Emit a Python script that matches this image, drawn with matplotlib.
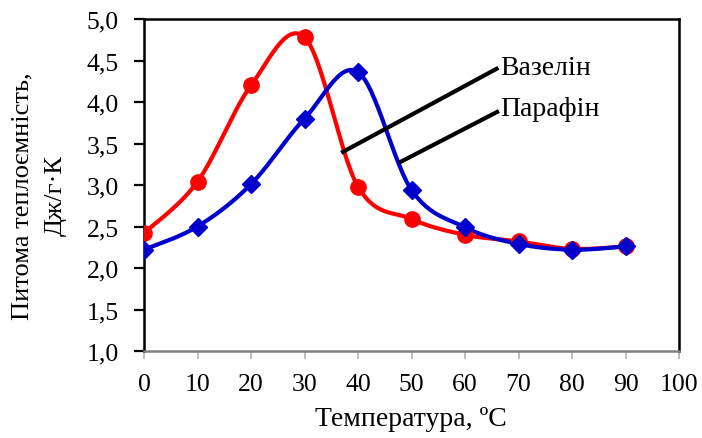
import numpy as np
import matplotlib
matplotlib.use("Agg")
import matplotlib.pyplot as plt

# data
temps = [0, 10, 20, 30, 40, 50, 60, 70, 80, 90]
vaselin = [2.42, 3.04, 4.20, 4.78, 2.98, 2.59, 2.40, 2.32, 2.23, 2.26]
parafin = [2.22, 2.50, 3.01, 3.80, 4.36, 2.94, 2.49, 2.29, 2.22, 2.26]

xticks = [0, 10, 20, 30, 40, 50, 60, 70, 80, 90, 100]
yticks = [1.0, 1.5, 2.0, 2.5, 3.0, 3.5, 4.0, 4.5, 5.0]

# label leader lines (data coords)
vas_line = ([37.2, 65.9], [3.40, 4.40])
par_line = ([48.0, 66.0], [3.28, 3.88])


def smooth(x, y, n=30):
    # Excel-style smoothing: Catmull-Rom as cubic Bezier segments
    x = np.asarray(x, float)
    y = np.asarray(y, float)
    px = np.concatenate([[x[0]], x, [x[-1]]])
    py = np.concatenate([[y[0]], y, [y[-1]]])
    xs, ys = [], []
    t = np.linspace(0, 1, n)
    for i in range(1, len(px) - 2):
        p0 = np.array([px[i], py[i]])
        p3 = np.array([px[i + 1], py[i + 1]])
        c1 = p0 + (np.array([px[i + 1], py[i + 1]]) - np.array([px[i - 1], py[i - 1]])) / 6
        c2 = p3 - (np.array([px[i + 2], py[i + 2]]) - np.array([px[i], py[i]])) / 6
        b = ((1 - t) ** 3)[:, None] * p0 + (3 * (1 - t) ** 2 * t)[:, None] * c1 \
            + (3 * (1 - t) * t ** 2)[:, None] * c2 + (t ** 3)[:, None] * p3
        xs.extend(b[:, 0])
        ys.extend(b[:, 1])
    return xs, ys


plt.rcParams["font.family"] = ["Liberation Serif", "DejaVu Serif"]

fig = plt.figure(figsize=(7.02, 4.39), dpi=100)
ax = fig.add_axes([144 / 702, 1 - 352 / 439, (679 - 144) / 702, (352 - 20) / 439])

sx, sy = smooth(temps, vaselin)
ax.plot(sx, sy, color="#ff0000", lw=3, zorder=3)
ax.plot(temps, vaselin, "o", color="#ff0000", ms=11, zorder=4)

sx, sy = smooth(temps, parafin)
ax.plot(sx, sy, color="#0000cc", lw=3, zorder=3)
ax.plot(temps, parafin, "D", color="#0000cc", ms=9, zorder=4)

ax.plot(*vas_line, color="black", lw=3, zorder=5)
ax.plot(*par_line, color="black", lw=3, zorder=5)
ax.text(66.6, 4.42, "Вазелін", fontsize=20, va="center", ha="left")
ax.text(66.6, 3.92, "Парафін", fontsize=20, va="center", ha="left")

ax.set_xlim(0, 100)
ax.set_ylim(1.0, 5.0)
ax.set_xticks(xticks)
ax.set_yticks(yticks)
ax.set_yticklabels([("%.1f" % v).replace(".", ",") for v in yticks])
ax.tick_params(axis="both", labelsize=18.5, direction="out")
ax.tick_params(axis="y", length=7, width=1.6, color="black", pad=11)
ax.tick_params(axis="x", length=6, width=1.2, color="#b0b0b0", pad=10)

for side in ["left", "top", "right"]:
    ax.spines[side].set_color("black")
    ax.spines[side].set_linewidth(1.8)
ax.spines["bottom"].set_color("#808080")
ax.spines["bottom"].set_linewidth(1.8)

fig.text(411 / 702, 1 - 420 / 439, "Температура, ºС", fontsize=20,
         ha="center", va="center")
fig.text(39 / 702, 1 - 196 / 439, "Питома теплоємність,\nДж/г·К", fontsize=19,
         rotation=90, ha="center", va="center", multialignment="center",
         linespacing=1.65)

fig.savefig("out.png", dpi=100)
